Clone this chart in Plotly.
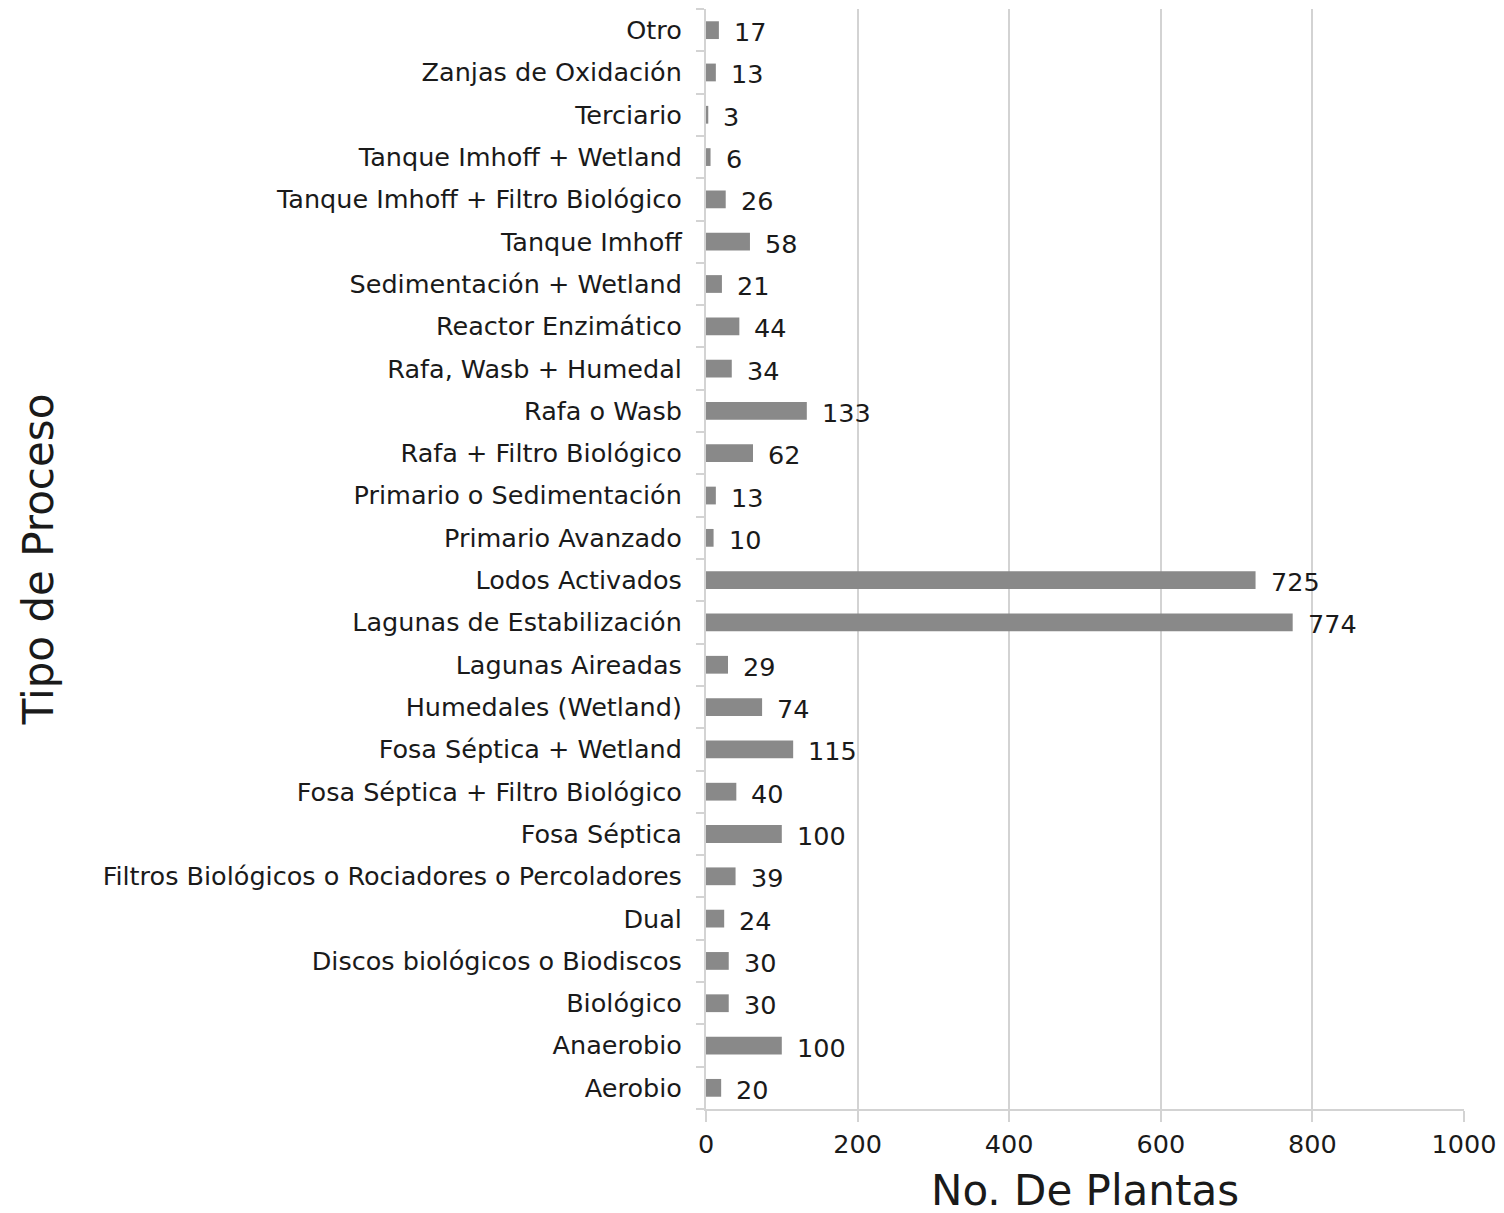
import plotly.graph_objects as go

categories = [
    "Aerobio", "Anaerobio", "Biológico", "Discos biológicos o Biodiscos", "Dual",
    "Filtros Biológicos o Rociadores o Percoladores", "Fosa Séptica",
    "Fosa Séptica + Filtro Biológico", "Fosa Séptica + Wetland", "Humedales (Wetland)",
    "Lagunas Aireadas", "Lagunas de Estabilización", "Lodos Activados",
    "Primario Avanzado", "Primario o Sedimentación", "Rafa + Filtro Biológico",
    "Rafa o Wasb", "Rafa, Wasb + Humedal", "Reactor Enzimático",
    "Sedimentación + Wetland", "Tanque Imhoff", "Tanque Imhoff + Filtro Biológico",
    "Tanque Imhoff + Wetland", "Terciario", "Zanjas de Oxidación", "Otro",
]
values = [20, 100, 30, 30, 24, 39, 100, 40, 115, 74, 29, 774, 725, 10, 13, 62,
          133, 34, 44, 21, 58, 26, 6, 3, 13, 17]
x_ticks = [0, 200, 400, 600, 800, 1000]

FONT = "DejaVu Sans"
GRID = "#d3d3d3"
TXT = 25.5

fig = go.Figure()
fig.add_trace(go.Bar(
    x=values, y=categories, orientation="h",
    marker=dict(color="#898989", line=dict(width=0)),
    hoverinfo="x+y",
))

for c, v in zip(categories, values):
    fig.add_annotation(x=v, y=c, text=str(v), showarrow=False,
                       xanchor="left", yanchor="middle", xshift=13, yshift=-2,
                       font=dict(family=FONT, size=TXT, color="#1a1a1a"))

fig.update_layout(
    width=1504, height=1213,
    margin=dict(l=698, r=48, t=1, b=112),
    plot_bgcolor="white", paper_bgcolor="white",
    bargap=0.58,
    showlegend=False,
    font=dict(family=FONT, color="#1a1a1a"),
)
fig.update_xaxes(
    range=[0, 1000], tickvals=x_ticks,
    showgrid=True, gridcolor=GRID, gridwidth=2,
    zeroline=False,
    showline=True, linecolor=GRID, linewidth=2,
    ticks="outside", ticklen=11, tickcolor=GRID, tickwidth=2,
    tickfont=dict(family=FONT, size=TXT),
    title=dict(text="No. De Plantas", font=dict(family=FONT, size=42), standoff=18),
)
fig.update_yaxes(
    type="category", categoryorder="array", categoryarray=categories,
    showgrid=False, zeroline=False,
    showline=True, linecolor=GRID, linewidth=2,
    ticks="outside", tickson="boundaries", ticklen=8, tickcolor=GRID, tickwidth=2,
    ticklabelstandoff=17,
    tickfont=dict(family=FONT, size=TXT),
    title=dict(text="Tipo de Proceso", font=dict(family=FONT, size=42), standoff=36),
)

fig.write_html("out.html")
